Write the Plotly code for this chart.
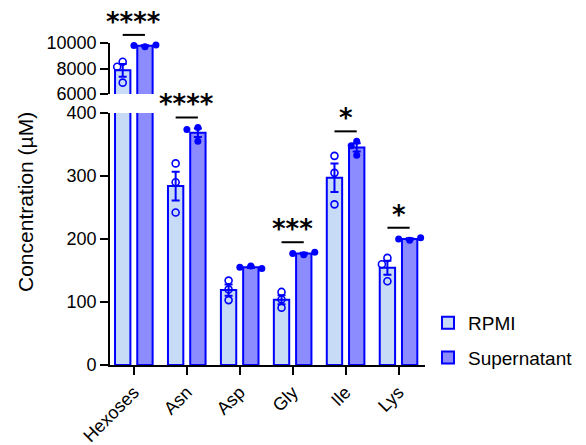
import numpy as np
import plotly.graph_objects as go

# ---------------- data ----------------
categories = ["Hexoses", "Asn", "Asp", "Gly", "Ile", "Lys"]
rpmi_values = [
    [8530, 8140, 6890],
    [320, 290, 242],
    [134, 120, 103],
    [116, 104, 91],
    [332, 305, 255],
    [170, 160, 133],
]
sup_values = [
    [9700, 9800, 9850],
    [377, 374, 355],
    [157, 155, 153],
    [175, 177, 179],
    [355, 348, 333],
    [198, 200, 202],
]
significance = ["****", "****", "", "***", "*", "*"]
series_names = ["RPMI", "Supernatant"]
y_low_ticks = [0, 100, 200, 300, 400]
y_high_ticks = [6000, 8000, 10000]
y_title = "Concentration (µM)"

# ---------------- layout constants ----------------
W, H = 586, 445
M = dict(l=110, r=161, t=43, b=80)
PW = W - M["l"] - M["r"]
PH = H - M["t"] - M["b"]
X_RANGE = [-0.45, 5.5]
LOW_RANGE = [0, 400]
LOW_DOM = [0.0, 0.7826]
HIGH_RANGE = [6000, 10000]
HIGH_DOM = [0.8416, 1.0]
OFFSET = 0.21
BAR_W = 0.29
BLUE = "#0000FF"
FILLS = ["rgb(199,219,247)", "rgb(140,140,255)"]
FONT = "Liberation Sans, Arial, sans-serif"

XPX = PW / (X_RANGE[1] - X_RANGE[0])
LOW_PX = PH * (LOW_DOM[1] - LOW_DOM[0]) / (LOW_RANGE[1] - LOW_RANGE[0])
HIGH_PX = PH * (HIGH_DOM[1] - HIGH_DOM[0]) / (HIGH_RANGE[1] - HIGH_RANGE[0])


def swarm(vals, px_per_unit, d=5.5, mind=6.5):
    placed = []
    out = []
    for v in vals:
        ypx = v * px_per_unit
        chosen = 0
        for cand in [0, -d, d, -2 * d, 2 * d]:
            if all((cand - px) ** 2 + (ypx - py) ** 2 >= mind ** 2 for px, py in placed):
                chosen = cand
                break
        placed.append((chosen, ypx))
        out.append(chosen / XPX)
    return out


def paper_x(v):
    return (v - X_RANGE[0]) / (X_RANGE[1] - X_RANGE[0])


def paper_y(v, high):
    rng, dom = (HIGH_RANGE, HIGH_DOM) if high else (LOW_RANGE, LOW_DOM)
    return dom[0] + (v - rng[0]) / (rng[1] - rng[0]) * (dom[1] - dom[0])


groups = [rpmi_values, sup_values]
means = [[float(np.mean(v)) for v in g] for g in groups]
sems = [[float(np.std(v, ddof=1) / np.sqrt(len(v))) for v in g] for g in groups]
sides = [-OFFSET, OFFSET]

fig = go.Figure()
for yax in ["y", "y2"]:
    for gi, g in enumerate(groups):
        xs = [i + sides[gi] for i in range(len(categories))]
        fig.add_trace(go.Bar(
            x=xs, y=means[gi], width=BAR_W, yaxis=yax, xaxis="x",
            name=series_names[gi], legendgroup=series_names[gi],
            showlegend=(yax == "y"),
            marker=dict(color=FILLS[gi], line=dict(color=BLUE, width=2)),
            error_y=dict(type="data", array=sems[gi], visible=True,
                         color=BLUE, thickness=2, width=4),
        ))
    for gi, g in enumerate(groups):
        px_list, py_list = [], []
        for i, vals in enumerate(g):
            scale = HIGH_PX if max(vals) > LOW_RANGE[1] else LOW_PX
            jit = swarm(vals, scale)
            for v, j in zip(vals, jit):
                px_list.append(i + sides[gi] + j)
                py_list.append(v)
        if gi == 0:
            mk = dict(symbol="circle-open", size=7, color=BLUE, line=dict(width=1.6, color=BLUE))
        else:
            mk = dict(symbol="circle", size=7, color=BLUE, line=dict(width=0))
        fig.add_trace(go.Scatter(
            x=px_list, y=py_list, mode="markers", yaxis=yax, xaxis="x",
            marker=mk, showlegend=False, cliponaxis=False, hoverinfo="skip",
        ))

# significance marks
shapes = []
annotations = []
for i, s in enumerate(significance):
    if not s:
        continue
    tops = [max(max(groups[g][i]), means[g][i] + sems[g][i]) for g in range(2)]
    top = max(tops)
    high = top > LOW_RANGE[1]
    yp = paper_y(top, high) + 10 / PH
    shapes.append(dict(type="line", xref="paper", yref="paper",
                       x0=paper_x(i - OFFSET), x1=paper_x(i + OFFSET),
                       y0=yp, y1=yp, line=dict(color="black", width=2)))
    annotations.append(dict(text=s, xref="x", yref="paper", x=i, y=yp,
                            yshift=13, yanchor="middle", showarrow=False,
                            font=dict(family="DejaVu Sans", size=26, color="black",
                                      weight="bold")))

annotations.append(dict(text=y_title, xref="paper", yref="paper",
                        x=(25 - M["l"]) / PW, y=(H - M["b"] - 202) / PH,
                        textangle=-90, showarrow=False, xanchor="center", yanchor="middle",
                        font=dict(family=FONT, size=21, color="black")))

axis_common = dict(showline=True, linecolor="black", linewidth=1.6, ticks="outside",
                   ticklen=8, tickwidth=1.6, tickcolor="black", showgrid=False,
                   zeroline=False, automargin=False,
                   tickfont=dict(family=FONT, size=18, color="black"))

fig.update_layout(
    width=W, height=H, margin=dict(**M, autoexpand=False),
    paper_bgcolor="white", plot_bgcolor="white",
    barmode="overlay",
    xaxis=dict(range=X_RANGE, tickvals=list(range(len(categories))), ticktext=categories,
               tickangle=-45, anchor="y", **axis_common),
    yaxis=dict(range=LOW_RANGE, domain=LOW_DOM, tickvals=y_low_ticks, anchor="x", **axis_common),
    yaxis2=dict(range=HIGH_RANGE, domain=HIGH_DOM, tickvals=y_high_ticks, tickformat="d",
                anchor="x", **axis_common),
    legend=dict(x=(428 - M["l"]) / PW, y=(H - M["b"] - 304) / PH, xanchor="left", yanchor="top",
                font=dict(family=FONT, size=19, color="black"), tracegroupgap=7,
                bgcolor="rgba(0,0,0,0)"),
    shapes=shapes, annotations=annotations,
    showlegend=True,
)

fig.write_html("out.html")
